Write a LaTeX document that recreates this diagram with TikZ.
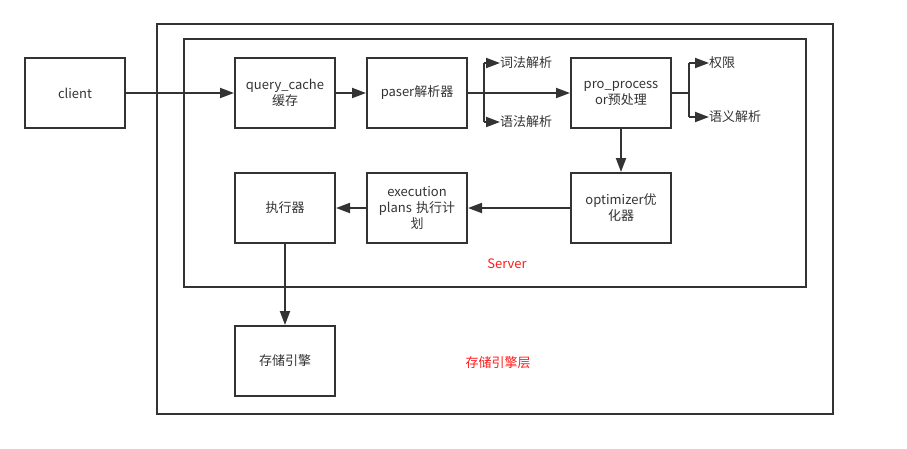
\documentclass[tikz,border=0pt]{standalone}
\usepackage{fontspec}
\setmainfont{Noto Sans CJK SC}
\usetikzlibrary{positioning}
\usetikzlibrary{arrows.meta}
\definecolor{darkline}{HTML}{333333}
\definecolor{labelred}{HTML}{FF1A1A}
\begin{document}
\begin{tikzpicture}[x=1pt,y=-1pt,
 box/.style={draw=darkline,line width=2pt,inner sep=2pt,minimum width=100pt,minimum height=70pt,align=center,text width=96pt,text=darkline,font=\fontsize{13}{16}\selectfont},
 tag/.style={anchor=west,inner sep=0pt,text=darkline,font=\fontsize{13}{15}\selectfont},
 redtag/.style={text=labelred,font=\fontsize{13}{15}\selectfont},
 wire/.style={draw=darkline,line width=2pt},
 link/.style={wire,-{Triangle[length=14pt,width=10pt]}}]
 \useasboundingbox (0,0) rectangle (907,448);
 % frames
 \draw[wire] (157,24) rectangle (833,414);
 \draw[wire] (184,39) rectangle (806,287);
 \node[redtag] (servername) at (507,264) {Server};
 \node[redtag] (storename) at (498,363) {存储引擎层};
 % boxes
 \node[box] (client) at (75,93) {client};
 \node[box] (cache) at (285,93) {query\_cache\\缓存};
 \node[box] (parser) at (417,93) {paser解析器};
 \node[box] (preproc) at (621,93) {pro\_process\\or预处理};
 \node[box] (optimizer) at (621,208) {optimizer优\\化器};
 \node[box] (plans) at (417,208) {execution\\plans 执行计\\划};
 \node[box] (executor) at (285,208) {执行器};
 \node[box] (storage) at (285,361) {存储引擎};
 % side labels
 \node[tag] (lexical) at (500,63) {词法解析};
 \node[tag] (syntax) at (500,122) {语法解析};
 \node[tag] (privilege) at (709,63) {权限};
 \node[tag] (semantic) at (709,117) {语义解析};
 \coordinate (lexfork) at (484,63);
 \coordinate (synfork) at (484,122);
 \coordinate (prefork) at (689,93);
 \coordinate (privfork) at (689,63);
 \coordinate (semfork) at (689,117);
 % connectors
 \draw[link] (client) -- (cache);
 \draw[link] (cache) -- (parser);
 \draw[link] (parser) -- (preproc);
 \draw[wire] (lexfork) -- (synfork);
 \draw[link] (lexfork) -- (lexical.west);
 \draw[link] (synfork) -- (syntax.west);
 \draw[wire] (preproc) -- (prefork);
 \draw[wire] (privfork) -- (semfork);
 \draw[link] (privfork) -- (privilege.west);
 \draw[link] (semfork) -- (semantic.west);
 \draw[link] (preproc) -- (optimizer);
 \draw[link] (optimizer) -- (plans);
 \draw[link] (plans) -- (executor);
 \draw[link] (executor) -- (storage);
\end{tikzpicture}
\end{document}
